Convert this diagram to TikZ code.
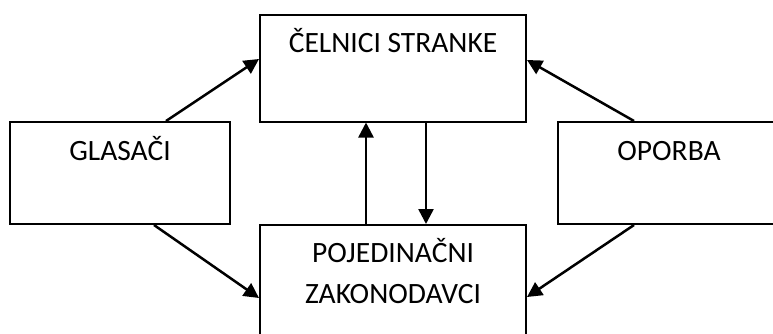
\documentclass[tikz,border=0pt]{standalone}
\usepackage{fontspec}
\setmainfont{Carlito}
\usetikzlibrary{arrows.meta}
\begin{document}
\begin{tikzpicture}[x=1pt, y=-1pt,
    kutija/.style={draw, line width=2pt, inner sep=0pt},
    natpis/.style={font=\fontsize{29.5}{41}\selectfont, inner sep=0pt, align=center, anchor=base},
    veza/.style={line width=2.5pt, -{Triangle[length=15pt, width=15pt]}}]
      \useasboundingbox (0,0) rectangle (773,333);
      \clip (0,0) rectangle (773,333);

      \node[kutija, minimum width=266pt, minimum height=107pt] (celnici) at (393,68) {};
      \node[kutija, minimum width=220pt, minimum height=102pt] (glasaci) at (120,173) {};
      \node[kutija, minimum width=222pt, minimum height=102pt] (oporba) at (669,173) {};
      \node[kutija, minimum width=266pt, minimum height=116pt] (zakonodavci) at (393,283) {};

      \node[natpis] (celnicitxt) at ([yshift=-39pt]celnici.north) {ČELNICI STRANKE};
      \node[natpis] (glasacitxt) at ([yshift=-39pt]glasaci.north) {GLASAČI};
      \node[natpis] (oporbatxt) at ([yshift=-39pt]oporba.north) {OPORBA};
      \node[natpis] (zakonodavcitxt) at ([yshift=-79pt]zakonodavci.north) {POJEDINAČNI\\ZAKONODAVCI};

      \draw[veza] ([xshift=46pt]glasaci.north) -- ([yshift=9pt]celnici.west);
      \draw[veza] ([xshift=34pt]glasaci.south) -- ([yshift=-15pt]zakonodavci.west);
      \draw[veza] ([xshift=-35pt]oporba.north) -- ([yshift=8pt]celnici.east);
      \draw[veza] ([xshift=-35pt]oporba.south) -- ([yshift=-14pt]zakonodavci.east);

      \draw[veza] ([xshift=-27pt]zakonodavci.north) -- ([xshift=-27pt]celnici.south);
      \draw[veza] ([xshift=33pt]celnici.south) -- ([xshift=33pt]zakonodavci.north);
    \end{tikzpicture}
\end{document}
